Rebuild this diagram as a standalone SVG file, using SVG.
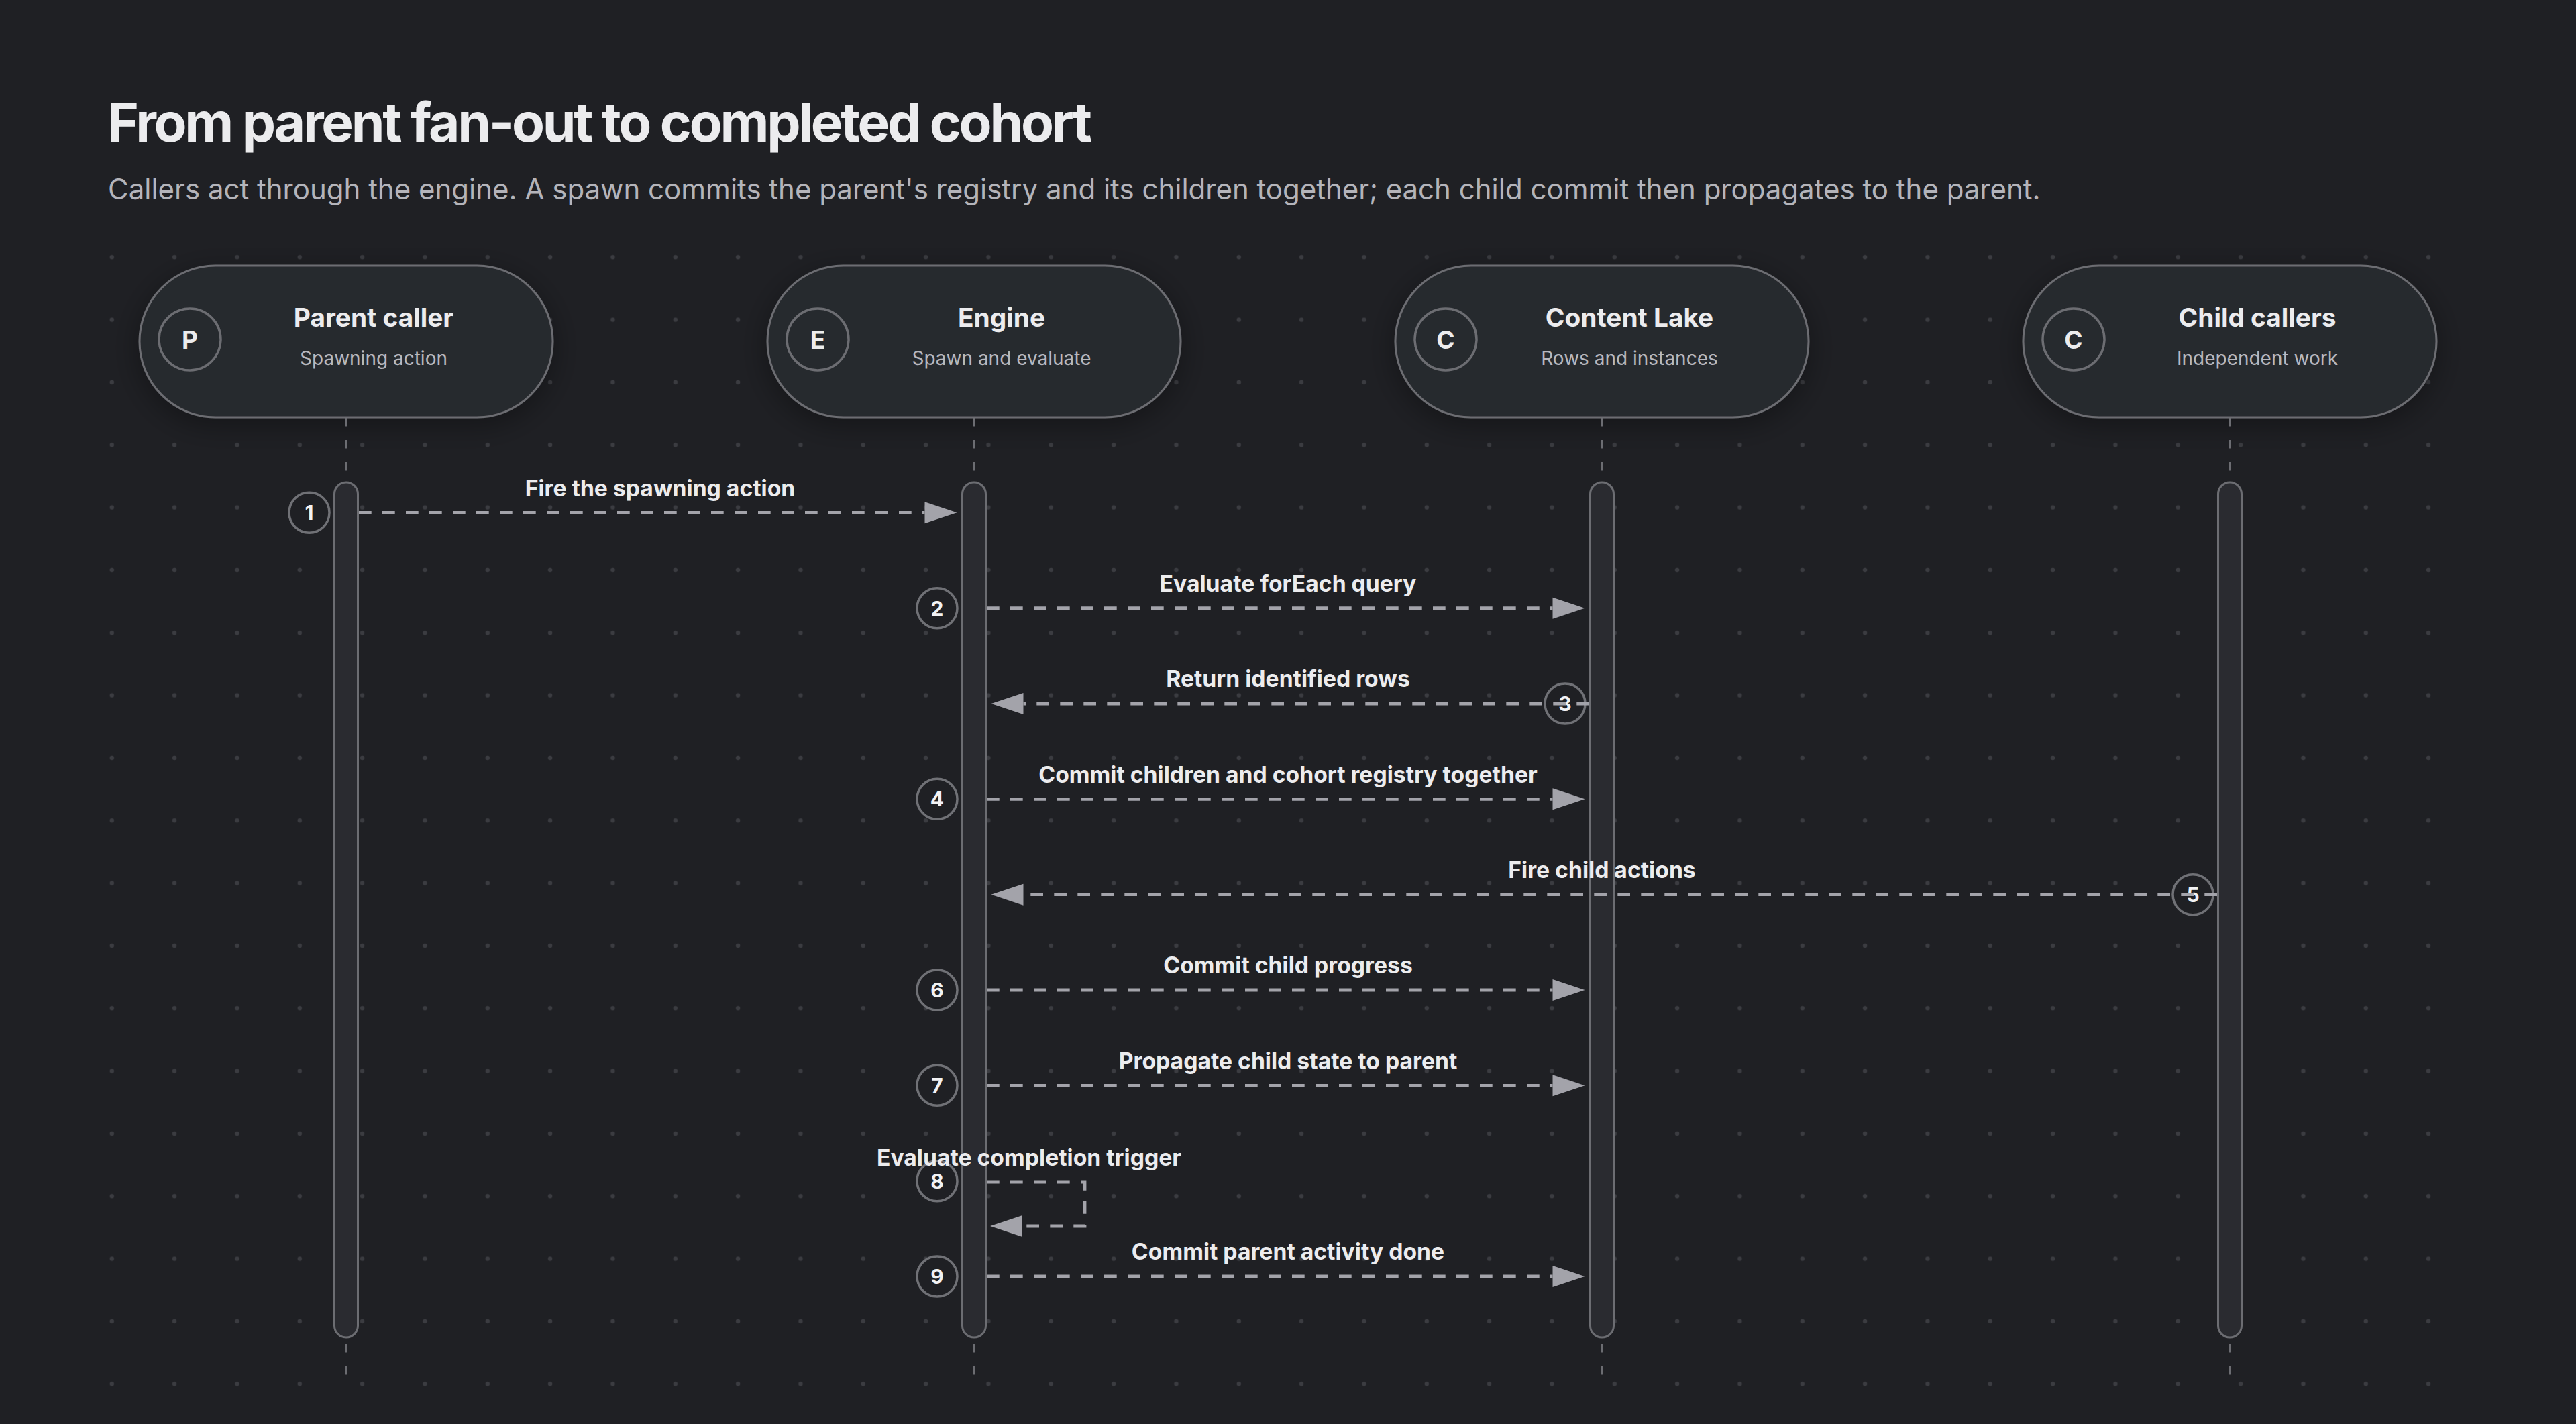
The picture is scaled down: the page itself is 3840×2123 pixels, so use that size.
<svg xmlns="http://www.w3.org/2000/svg" width="3840" height="2123" viewBox="0 0 3840 2123">
<defs>
<pattern id="dots" patternUnits="userSpaceOnUse" x="0" y="0" width="93.333" height="93.333">
<circle cx="73.47" cy="10" r="3.2" fill="#3b3c41"/>
</pattern>
<filter id="shadow" x="-20%" y="-40%" width="140%" height="180%">
<feDropShadow dx="0" dy="10" stdDeviation="22" flood-color="#000" flood-opacity="0.35"/>
</filter>
<marker id="ah" markerUnits="userSpaceOnUse" markerWidth="50" markerHeight="36" refX="0" refY="17" orient="auto" overflow="visible">
<path d="M0,1 L48,17 L0,33 Z" fill="#a3a3aa"/>
</marker>
<style>
.bg{fill:#1f2024}
.pill{fill:#28292d;stroke:#6c6d72;stroke-width:3}
.icon{fill:none;stroke:#6c6d72;stroke-width:3.5}
.iconT{font-family:Inter,"Liberation Sans",sans-serif;font-weight:700;font-size:37px;fill:#ececee;text-anchor:middle}
.nT{font-family:Inter,"Liberation Sans",sans-serif;font-weight:700;font-size:38.8px;fill:#ececee;text-anchor:middle}
.nS{font-family:Inter,"Liberation Sans",sans-serif;font-weight:400;font-size:28px;fill:#b8b8be;text-anchor:middle}
.life{stroke:#6c6d72;stroke-width:2.6;stroke-dasharray:12.5 20.5;fill:none}
.bar{fill:#2a2b30;stroke:#6c6d72;stroke-width:3}
.msg{fill:none;stroke:#a3a3aa;stroke-width:4.8;stroke-dasharray:18.7 16.3}
.badge{fill:#1f2024;stroke:#707176;stroke-width:3.5}
.bT{font-family:Inter,"Liberation Sans",sans-serif;font-weight:700;font-size:30px;fill:#f2f2f4;text-anchor:middle}
.lbl{font-family:Inter,"Liberation Sans",sans-serif;font-weight:700;font-size:33.7px;fill:#ececee;text-anchor:middle}
.title{font-family:Inter,"Liberation Sans",sans-serif;font-weight:700;font-size:80px;fill:#ececee;letter-spacing:-3.25px}
.sub{font-family:Inter,"Liberation Sans",sans-serif;font-weight:400;font-size:42px;fill:#b4b4ba}
</style>
</defs>
<rect class="bg" x="0" y="0" width="3840" height="2123"/>
<rect x="130" y="360" width="3530" height="1730" fill="url(#dots)"/>

<text class="title" x="160" y="211">From parent fan-out to completed cohort</text>
<text class="sub" x="161" y="297">Callers act through the engine. A spawn commits the parent's registry and its children together; each child commit then propagates to the parent.</text>

<g id="node-parent">
<rect class="pill" x="208" y="396" width="616" height="226" rx="113" filter="url(#shadow)"/>
<circle class="icon" cx="283" cy="506" r="46"/>
<text class="iconT" x="283" y="519.5">P</text>
<text class="nT" x="557" y="487">Parent caller</text>
<text class="nS" x="557" y="544">Spawning action</text>
<line class="life" x1="516" y1="623" x2="516" y2="719"/>
<line class="life" x1="516" y1="2004" x2="516" y2="2052"/>
<rect class="bar" x="498.5" y="719" width="35" height="1275" rx="17.5"/>
</g>

<g id="node-engine">
<rect class="pill" x="1144" y="396" width="616" height="226" rx="113" filter="url(#shadow)"/>
<circle class="icon" cx="1219" cy="506" r="46"/>
<text class="iconT" x="1219" y="519.5">E</text>
<text class="nT" x="1493" y="487">Engine</text>
<text class="nS" x="1493" y="544">Spawn and evaluate</text>
<line class="life" x1="1452" y1="623" x2="1452" y2="719"/>
<line class="life" x1="1452" y1="2004" x2="1452" y2="2052"/>
<rect class="bar" x="1434.5" y="719" width="35" height="1275" rx="17.5"/>
</g>

<g id="node-lake">
<rect class="pill" x="2080" y="396" width="616" height="226" rx="113" filter="url(#shadow)"/>
<circle class="icon" cx="2155" cy="506" r="46"/>
<text class="iconT" x="2155" y="519.5">C</text>
<text class="nT" x="2429" y="487">Content Lake</text>
<text class="nS" x="2429" y="544">Rows and instances</text>
<line class="life" x1="2388" y1="623" x2="2388" y2="719"/>
<line class="life" x1="2388" y1="2004" x2="2388" y2="2052"/>
<rect class="bar" x="2370.5" y="719" width="35" height="1275" rx="17.5"/>
</g>

<g id="node-children">
<rect class="pill" x="3016" y="396" width="616" height="226" rx="113" filter="url(#shadow)"/>
<circle class="icon" cx="3091" cy="506" r="46"/>
<text class="iconT" x="3091" y="519.5">C</text>
<text class="nT" x="3365" y="487">Child callers</text>
<text class="nS" x="3365" y="544">Independent work</text>
<line class="life" x1="3324" y1="623" x2="3324" y2="719"/>
<line class="life" x1="3324" y1="2004" x2="3324" y2="2052"/>
<rect class="bar" x="3306.5" y="719" width="35" height="1275" rx="17.5"/>
</g>

<g id="connectors">
<g id="badges">
<circle class="badge" cx="461" cy="764.3" r="30"/><text class="bT" x="461" y="775.3">1</text>
<circle class="badge" cx="1397" cy="906.7" r="30"/><text class="bT" x="1397" y="917.7">2</text>
<circle class="badge" cx="2333" cy="1049" r="30"/><text class="bT" x="2333" y="1060">3</text>
<circle class="badge" cx="1397" cy="1191.3" r="30"/><text class="bT" x="1397" y="1202.3">4</text>
<circle class="badge" cx="3269" cy="1333.7" r="30"/><text class="bT" x="3269" y="1344.7">5</text>
<circle class="badge" cx="1397" cy="1476" r="30"/><text class="bT" x="1397" y="1487">6</text>
<circle class="badge" cx="1397" cy="1618.3" r="30"/><text class="bT" x="1397" y="1629.3">7</text>
<circle class="badge" cx="1397" cy="1760.7" r="30"/><text class="bT" x="1397" y="1771.7">8</text>
<circle class="badge" cx="1397" cy="1903" r="30"/><text class="bT" x="1397" y="1914">9</text>
</g>
<path class="msg" d="M535,764.3 H1378.5" marker-end="url(#ah)"/>
<path class="msg" d="M1471,906.7 H2314.5" marker-end="url(#ah)"/>
<path class="msg" d="M2369,1049 H1525.5" marker-end="url(#ah)"/>
<path class="msg" d="M1471,1191.3 H2314.5" marker-end="url(#ah)"/>
<path class="msg" d="M3305,1333.7 H1525.5" marker-end="url(#ah)"/>
<path class="msg" d="M1471,1476 H2314.5" marker-end="url(#ah)"/>
<path class="msg" d="M1471,1618.3 H2314.5" marker-end="url(#ah)"/>
<path class="msg" d="M1471,1762 H1617 V1828 H1524" marker-end="url(#ah)"/>
<path class="msg" d="M1471,1903 H2314.5" marker-end="url(#ah)"/>
<g id="labels">
<text class="lbl" x="984" y="739.5">Fire the spawning action</text>
<text class="lbl" x="1920" y="882">Evaluate forEach query</text>
<text class="lbl" x="1920" y="1024">Return identified rows</text>
<text class="lbl" x="1920" y="1166.5">Commit children and cohort registry together</text>
<text class="lbl" x="2388" y="1309">Fire child actions</text>
<text class="lbl" x="1920" y="1451">Commit child progress</text>
<text class="lbl" x="1920" y="1593.5">Propagate child state to parent</text>
<text class="lbl" x="1534" y="1737.5">Evaluate completion trigger</text>
<text class="lbl" x="1920" y="1878">Commit parent activity done</text>
</g>
</g>
</svg>
